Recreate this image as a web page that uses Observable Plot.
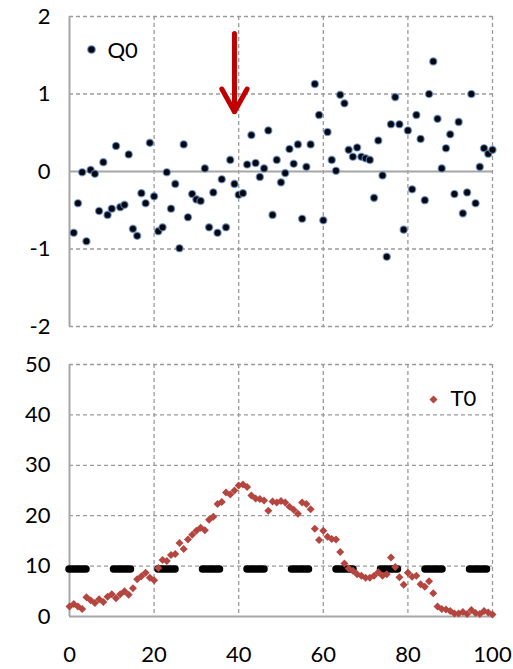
<!DOCTYPE html>
<html>
<head>
<meta charset="utf-8">
<script src="https://cdn.jsdelivr.net/npm/d3@7"></script>
<script src="https://cdn.jsdelivr.net/npm/@observablehq/plot@0.6"></script>
<style>
  html, body { margin: 0; padding: 0; background: #fff; }
  #chart svg { display: block; }
</style>
</head>
<body>
<div id="chart"></div>
<script>
// ---- data ----
const q0Values = [
  -0.79, -0.41, -0.01, -0.90, 0.02, -0.03, -0.51, 0.12, -0.56, -0.48,
  0.33, -0.46, -0.43, 0.22, -0.74, -0.83, -0.28, -0.41, 0.37, -0.32,
  -0.77, -0.72, -0.01, -0.48, -0.16, -0.99, 0.35, -0.59, -0.29, -0.36,
  -0.38, 0.04, -0.72, -0.27, -0.79, -0.10, -0.72, 0.15, -0.16, -0.30,
  -0.28, 0.09, 0.47, 0.11, -0.07, 0.04, 0.53, -0.56, 0.15, -0.14,
  -0.02, 0.29, 0.10, 0.35, -0.61, 0.06, 0.35, 1.13, 0.73, -0.63,
  0.51, 0.15, 0.01, 0.99, 0.88, 0.28, 0.19, 0.31, 0.19, 0.17,
  0.15, -0.34, 0.40, -0.05, -1.10, 0.61, 0.96, 0.61, -0.75, 0.53,
  -0.23, 0.73, 0.42, -0.37, 1.00, 1.42, 0.68, 0.04, 0.30, 0.48,
  -0.29, 0.64, -0.54, -0.27, 1.00, -0.41, 0.06, 0.30, 0.23, 0.28
];
const q0X = d3.range(1, 101);

const t0Values = [
  2.0, 2.5, 2.0, 1.5, 3.8, 3.2, 2.7, 3.4, 2.9, 3.9,
  4.4, 3.6, 4.4, 5.0, 4.3, 5.6, 7.4, 8.0, 8.7, 7.7,
  7.2, 9.6, 11.2, 11.0, 12.2, 12.4, 14.6, 13.4, 15.3, 16.2,
  17.0, 17.6, 17.1, 19.2, 19.8, 22.3, 22.7, 24.6, 24.2, 25.0,
  26.0, 26.2, 25.7, 24.0, 23.4, 23.3, 23.0, 21.0, 22.8, 22.6,
  22.9, 22.6, 21.8, 21.2, 20.4, 22.6, 22.3, 21.3, 17.4, 15.2,
  17.0, 15.8, 15.4, 15.3, 12.8, 10.5, 9.5, 9.1, 8.4, 8.1,
  7.7, 7.7, 8.1, 8.8, 8.1, 8.4, 11.7, 9.8, 7.8, 6.3,
  8.7, 7.9, 8.1, 6.4, 5.9, 7.0, 4.6, 2.0, 1.5, 1.4,
  1.1, 0.6, 0.6, 0.9, 0.5, 1.3, 0.7, 0.5, 1.1, 0.8,
  0.4
];
const t0X = d3.range(0, 101);

const threshold = 9.4;
const arrowX = 39;
const arrowYStart = 1.78;
const arrowYEnd = 0.77;

const xTicks = [0, 20, 40, 60, 80, 100];
const q0Ticks = [-2, -1, 0, 1, 2];
const t0Ticks = [0, 10, 20, 30, 40, 50];

const q0Data = q0X.map((x, i) => ({x, y: q0Values[i]}));
const t0Data = t0X.map((x, i) => ({x, y: t0Values[i]}));

// ---- styles ----
const FONT = "Lato, 'Open Sans', sans-serif";
const gridColor = "#9a9a9a";
const axisColor = "#a6a6a6";
const dash = "4,3";
const q0Fill = "#05070f";
const q0Stroke = "#6b95cf";
const t0Fill = "#b5453f";

const topChart = Plot.plot({
  width: 513,
  height: 340,
  marginLeft: 69,
  marginRight: 21,
  marginTop: 16,
  marginBottom: 14,
  style: {fontFamily: FONT, fontSize: "22px", color: "#000", background: "#fff", overflow: "visible"},
  x: {domain: [0, 100], axis: null, label: null},
  y: {domain: [-2, 2], ticks: q0Ticks, tickSize: 0, tickPadding: 19, tickFormat: d => String(d), label: null},
  marks: [
    Plot.ruleX(xTicks.filter(d => d !== 0), {stroke: gridColor, strokeWidth: 1.3, strokeDasharray: dash}),
    Plot.ruleY(q0Ticks.filter(d => d !== 0), {stroke: gridColor, strokeWidth: 1.3, strokeDasharray: dash}),
    Plot.ruleY([0], {stroke: axisColor, strokeWidth: 2}),
    Plot.ruleX([0], {stroke: axisColor, strokeWidth: 2}),
    Plot.dot(q0Data, {x: "x", y: "y", r: 3.6, fill: q0Fill, stroke: q0Stroke, strokeWidth: 1.4, strokeOpacity: 0.7}),
    Plot.arrow([{x: arrowX, y1: arrowYStart, y2: arrowYEnd}], {
      x1: "x", x2: "x", y1: "y1", y2: "y2",
      stroke: "#c00000", strokeWidth: 5, headAngle: 58
    }),
    Plot.dot([0], {frameAnchor: "top-left", dx: 22, dy: 33, r: 3.8, fill: q0Fill, stroke: q0Stroke, strokeWidth: 1.4, strokeOpacity: 0.7}),
    Plot.text(["Q0"], {text: d => d, frameAnchor: "top-left", dx: 38, dy: 34, textAnchor: "start", lineAnchor: "middle", fontSize: 22, fill: "#000"})
  ]
});

const bottomChart = Plot.plot({
  width: 513,
  height: 329,
  marginLeft: 69,
  marginRight: 21,
  marginTop: 24,
  marginBottom: 53,
  style: {fontFamily: FONT, fontSize: "22px", color: "#000", background: "#fff", overflow: "visible"},
  x: {domain: [0, 100], ticks: xTicks, tickSize: 0, tickPadding: 30, tickFormat: d => String(d), label: null},
  y: {domain: [0, 50], ticks: t0Ticks, tickSize: 0, tickPadding: 19, tickFormat: d => String(d), label: null},
  marks: [
    Plot.ruleX(xTicks.filter(d => d !== 0), {stroke: gridColor, strokeWidth: 1.3, strokeDasharray: dash}),
    Plot.ruleY(t0Ticks.filter(d => d !== 0), {stroke: gridColor, strokeWidth: 1.3, strokeDasharray: dash}),
    Plot.ruleY([0], {stroke: axisColor, strokeWidth: 2}),
    Plot.ruleX([0], {stroke: axisColor, strokeWidth: 2}),
    Plot.ruleY([threshold], {x1: 0, x2: 100, stroke: "#000", strokeWidth: 7.5, strokeDasharray: "17,27.5", strokeLinecap: "round"}),
    Plot.dot(t0Data, {x: "x", y: "y", symbol: "diamond2", r: 3.6, fill: t0Fill, stroke: "none"}),
    Plot.dot([0], {frameAnchor: "top-left", dx: 364, dy: 35, symbol: "diamond2", r: 3.6, fill: t0Fill, stroke: "none"}),
    Plot.text(["T0"], {text: d => d, frameAnchor: "top-left", dx: 381, dy: 34, textAnchor: "start", lineAnchor: "middle", fontSize: 22, fill: "#000"})
  ]
});

const root = document.getElementById("chart");
root.appendChild(topChart);
root.appendChild(bottomChart);
</script>
</body>
</html>
